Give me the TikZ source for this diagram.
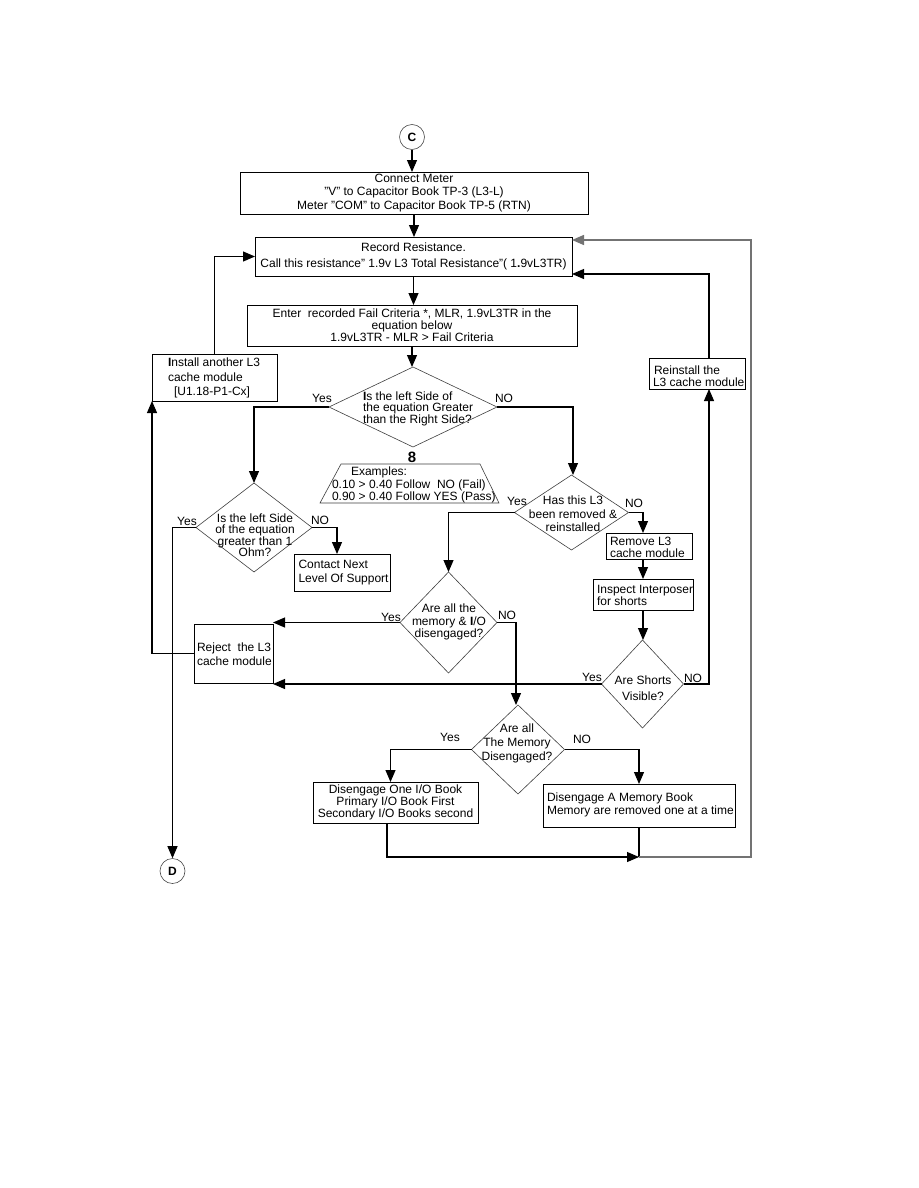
\documentclass[tikz,border=0pt]{standalone}
\usepackage{fontspec}
\setmainfont{Liberation Sans}
\usetikzlibrary{shapes.geometric,arrows.meta}
\newcommand{\fs}[1]{\fontsize{12}{#1}\selectfont}
\newcommand{\dq}{{\char34}}
\begin{document}
\begin{tikzpicture}[x=1pt,y=-1pt,
  box/.style={draw=black, line width=0.9pt, inner sep=0pt, outer sep=0pt},
  dia/.style={draw=black!75, line width=0.6pt, shape=diamond, inner sep=0pt, outer sep=0pt},
  txt/.style={inner sep=0pt, outer sep=0pt},
  lab/.style={inner sep=0pt, font=\fs{13}},
  conn/.style={line width=1.1pt, -{Triangle[length=12pt,width=10pt]}},
  plainline/.style={line width=1.1pt},
  greyline/.style={line width=1.4pt, draw=black!55},
  term/.style={draw=black!70, circle, line width=0.6pt, minimum size=25pt, inner sep=0pt, font=\bfseries\fs{13}}]
\useasboundingbox (0,0) rectangle (918,1188);
\fill[white] (0,0) rectangle (918,1188);

% terminals
\node[term] (C) at (412,137) {C};
\node[term] (D) at (172.5,871) {D};

% boxes
\node[box, minimum width=348pt, minimum height=42pt, align=center, font=\fs{13.5}] (connect) at (414,193)
  {Connect Meter\\\dq V\dq{} to Capacitor Book TP-3 (L3-L)\\Meter \dq COM\dq{} to Capacitor Book TP-5 (RTN)};
\node[box, minimum width=317pt, minimum height=39pt, align=center, font=\fs{16}] (record) at (413.5,256.5)
  {Record Resistance.\\Call this resistance\dq{} 1.9v L3 Total Resistance\dq( 1{\bfseries .}9vL3TR)};
\node[box, minimum width=330pt, minimum height=41pt, align=center, font=\fs{12}] (enter) at (412,325.5)
  {Enter\ \ recorded Fail Criteria *, MLR, 1.9vL3TR in the\\equation below\\1.9vL3TR - MLR {\textgreater} Fail Criteria};

\node[box, minimum width=125pt, minimum height=47pt] (install) at (214.5,377.5) {};
\node[txt, anchor=west, align=left, font=\fs{14.5}] (installtxt) at (168,378)
  {{\bfseries I}nstall another L3\\cache module\\\hspace*{6pt}[U1.18-P1-Cx]};

\node[box, minimum width=96pt, minimum height=31pt] (reinstall) at (697,373.5) {};
\node[txt, anchor=west, align=left, font=\fs{12}] (reinstalltxt) at (653,376)
  {\hspace*{1pt}Reinstall the\\L3 cache module};

\node[box, minimum width=96pt, minimum height=37pt] (contact) at (342,572.5) {};
\node[txt, anchor=west, align=left, font=\fs{14}] (contacttxt) at (298.5,573)
  {Contact Next\\Level Of Support};

\node[box, minimum width=86pt, minimum height=26pt] (remove) at (649,546) {};
\node[txt, anchor=west, align=left, font=\fs{12}] (removetxt) at (610,547)
  {Remove L3\\cache module};

\node[box, minimum width=100pt, minimum height=31pt] (inspect) at (643,594.5) {};
\node[txt, anchor=west, align=left, font=\fs{12}] (inspecttxt) at (597,595)
  {Inspect Interposer\\for shorts};

\node[box, minimum width=79pt, minimum height=59pt] (reject) at (233.5,653.5) {};
\node[txt, anchor=west, align=left, font=\fs{14}] (rejecttxt) at (197,654)
  {Reject\ \ the L3\\cache module};

\node[box, minimum width=165pt, minimum height=41pt, align=center, font=\fs{12}] (iobook) at (395.5,802.5)
  {Disengage One I/O Book\\Primary I/O Book First\\Secondary I/O Books second};

\node[box, minimum width=192pt, minimum height=43pt] (membook) at (639,805.5) {};
\node[txt, anchor=west, align=left, font=\fs{13}] (membooktxt) at (547,804.5)
  {Disengage A Memory Book\\Memory are removed one at a time};

% diamonds
\node[dia, minimum width=168pt, minimum height=80pt] (main) at (413,407) {};
\node[txt, anchor=west, align=left, font=\fs{11.5}] (maintxt) at (363,408.5)
  {{\bfseries I}s the left Side of\\the equation Greater\\than the Right Side?};

\node[dia, minimum width=116pt, minimum height=89pt] (ohm) at (254,527.5) {};
\node[txt, align=center, font=\fs{11.5}] (ohmtxt) at (255,535)
  {Is the left Side\\of the equation\\greater than 1\\Ohm?};

\node[dia, minimum width=114pt, minimum height=75pt] (hasl3) at (571.5,512.5) {};
\node[txt, align=center, font=\fs{13.5}] (hasl3txt) at (573,514)
  {Has this L3\\been removed \&\\reinstalled};

\node[dia, minimum width=97pt, minimum height=101pt] (allio) at (448.5,622.5) {};
\node[txt, align=center, font=\fs{12.5}] (alliotxt) at (449,622)
  {Are all the\\memory \& {\bfseries I}/O\\disengaged?};

\node[dia, minimum width=82pt, minimum height=88pt] (shorts) at (642.5,684) {};
\node[txt, align=center, font=\fs{16}] (shortstxt) at (643,688)
  {Are Shorts\\Visible?};

\node[dia, minimum width=93pt, minimum height=89pt] (allmem) at (518,749.5) {};
\node[txt, align=center, font=\fs{14}] (allmemtxt) at (517,743)
  {Are all\\The Memory\\Disengaged?};

% examples
\draw[draw=black!75, line width=0.6pt] (341,464) -- (480,464) -- (499,503) -- (320,503) -- cycle;
\node[txt, anchor=west, align=left, font=\fs{12.5}] (examples) at (332,485)
  {\hspace*{19pt}Examples:\\0.10 {\textgreater} 0.40 Follow\ \ NO (Fail)\\0.90 {\textgreater} 0.40 Follow YES (Pass)};
\node[txt, font=\bfseries\fontsize{15}{16}\selectfont] (eight) at (412,457) {8};

% labels
\node[lab] (l1) at (322,398) {Yes};
\node[lab] (l2) at (504,398) {NO};
\node[lab] (l3) at (187,521) {Yes};
\node[lab] (l4) at (320,520) {NO};
\node[lab] (l5) at (517,501) {Yes};
\node[lab] (l6) at (634,503) {NO};
\node[lab] (l7) at (391,617) {Yes};
\node[lab] (l8) at (507,615) {NO};
\node[lab] (l9) at (592,677) {Yes};
\node[lab] (l10) at (693,678) {NO};
\node[lab] (l11) at (450,737) {Yes};
\node[lab] (l12) at (582,739) {NO};

% connectors
\draw[conn] (C.south) -- (C.south |- connect.north);
\draw[conn] (connect.south) -- (connect.south |- record.north);
\draw[conn] (record.south) -- (record.south |- enter.north);
\draw[conn] (enter.south) -- (enter.south |- main.north);
\draw[conn] (main.west) -| (ohm.north);
\draw[conn] (main.east) -| ([xshift=1.5pt]hasl3.north);
\draw[conn] (ohm.west) -| (D.north);
\draw[conn] (ohm.east) -| ([xshift=-5pt]contact.north);
\draw[conn] (hasl3.west) -| (allio.north);
\draw[conn] (hasl3.east) -| ([xshift=-6pt]remove.north);
\draw[conn] ([xshift=-6pt]remove.south) -- ([xshift=-6pt]remove.south |- inspect.north);
\draw[conn] (inspect.south) -- (inspect.south |- shorts.north);
\draw[conn] (shorts.west) -- (shorts.west -| reject.east);
\draw[conn] (shorts.east) -| ([xshift=12pt]reinstall.south);
\draw[conn] ([xshift=12pt]reinstall.north) |- ([yshift=-17.5pt]record.east);
\draw[conn] (install.north) |- (record.west);
\draw[conn] (reject.west) -| (install.south west);
\draw[conn] (allio.west) -- (allio.west -| reject.east);
\draw[conn] (allio.east) -| ([xshift=-2pt]allmem.north);
\draw[conn] (allmem.west) -| ([xshift=-5pt]iobook.north);
\draw[conn] (allmem.east) -| (membook.north);
\coordinate (J) at (639,857);
\coordinate (R) at (751,857);
\draw[conn] ([xshift=-8.5pt]iobook.south) |- (J);
\draw[plainline] (membook.south) -- (J);
\draw[greyline, -{Triangle[length=12pt,width=10pt]}] (J) -- (R) |- ([yshift=16.5pt]record.east);
\end{tikzpicture}
\end{document}
